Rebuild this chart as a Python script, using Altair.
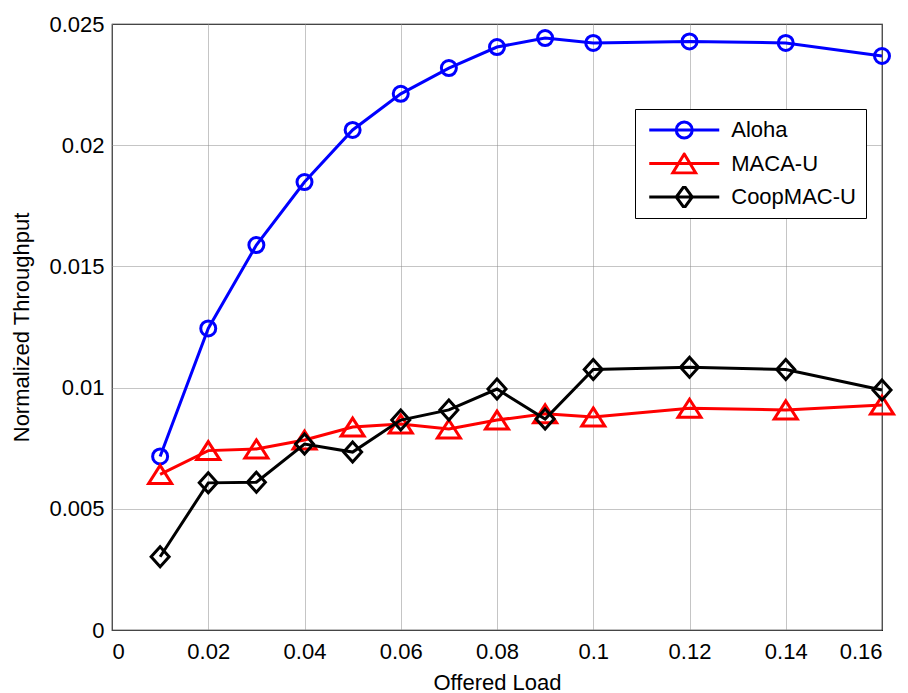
import altair as alt
import pandas as pd

# ---- data ----
offered_load = [0.01, 0.02, 0.03, 0.04, 0.05, 0.06, 0.07, 0.08, 0.09, 0.10, 0.12, 0.14, 0.16]
aloha = [0.00716, 0.01244, 0.01588, 0.01848, 0.02063, 0.02212, 0.02318, 0.02405, 0.02442,
         0.02422, 0.02428, 0.02422, 0.02368]
maca_u = [0.00642, 0.00740, 0.00747, 0.00784, 0.00837, 0.00850, 0.00829, 0.00866, 0.00892,
          0.00879, 0.00915, 0.00908, 0.00928]
coopmac_u = [0.00302, 0.00607, 0.00610, 0.00767, 0.00734, 0.00866, 0.00908, 0.00994, 0.00870,
             0.01075, 0.01084, 0.01075, 0.00990]

series_names = ["Aloha", "MACA-U", "CoopMAC-U"]
series_colors = ["#0000FF", "#FF0000", "#000000"]
x_ticks = [0, 0.02, 0.04, 0.06, 0.08, 0.1, 0.12, 0.14, 0.16]
y_ticks = [0, 0.005, 0.01, 0.015, 0.02, 0.025]

# marker shapes (plot) and legend symbols (line + marker)
plot_shapes = [
    "M-0.75,0A0.75,0.75 0 1,0 0.75,0A0.75,0.75 0 1,0 -0.75,0Z",
    "M0,-0.9L1.15,0.9L-1.15,0.9Z",
    "M0,-1L0.9,0L0,1L-0.9,0Z",
]
legend_shapes = [
    "M-1,0H1M-0.229,0A0.229,0.229 0 1,0 0.229,0A0.229,0.229 0 1,0 -0.229,0",
    "M-1,0H1M0,-0.271L0.329,0.271L-0.329,0.271Z",
    "M-1,0H1M0,-0.314L0.229,0L0,0.314L-0.229,0Z",
]

rows = []
for name, vals in zip(series_names, [aloha, maca_u, coopmac_u]):
    for xv, yv in zip(offered_load, vals):
        rows.append({"load": xv, "thr": yv, "series": name})
df = pd.DataFrame(rows)

FONT = "Liberation Sans"

x_enc = alt.X("load:Q", scale=alt.Scale(domain=[0, 0.16], nice=False, zero=False),
              axis=alt.Axis(values=x_ticks, format="~g", title="Offered Load",
                            titleBaseline="alphabetic", titleY=59,
                            labelPadding=11))
y_enc = alt.Y("thr:Q", scale=alt.Scale(domain=[0, 0.025], nice=False),
              axis=alt.Axis(values=y_ticks, format="~g", title="Normalized Throughput",
                            titleBaseline="alphabetic", titleX=-83.5,
                            labelPadding=8))

layers = []
for name, color, shp in zip(series_names, series_colors, plot_shapes):
    sub = alt.Chart(df).transform_filter(alt.datum.series == name)
    layers.append(sub.mark_line(color=color, strokeWidth=3).encode(x=x_enc, y=y_enc))
    layers.append(sub.mark_point(shape=shp, color=color, filled=False, strokeWidth=3,
                                 size=400, opacity=1).encode(x=x_enc, y=y_enc))

legend_layer = alt.Chart(df).transform_filter(alt.datum.thr < 0).mark_point(
    filled=False, strokeWidth=3, size=4900, opacity=1
).encode(
    x=x_enc, y=y_enc,
    color=alt.Color("series:N", scale=alt.Scale(domain=series_names, range=series_colors),
                    legend=alt.Legend(title=None, orient="none", legendX=523, legendY=85,
                                      direction="vertical")),
    shape=alt.Shape("series:N", scale=alt.Scale(domain=series_names, range=legend_shapes),
                    legend=alt.Legend(title=None, orient="none", legendX=523, legendY=85,
                                      direction="vertical")),
)
layers.append(legend_layer)

chart = alt.layer(*layers).properties(
    width=770, height=606,
    autosize=alt.AutoSizeParams(type="none"),
    padding={"left": 112, "top": 24, "right": 26, "bottom": 63},
    background="white",
).configure_view(
    stroke="black", strokeWidth=1.2
).configure_axis(
    labelFont=FONT, titleFont=FONT, labelFontSize=22, titleFontSize=22,
    titleFontWeight="normal", labelColor="black", titleColor="black",
    ticks=False, tickSize=0, domain=False,
    grid=True, gridColor="#8a8a8a", gridDash=[1, 1], gridWidth=1,
).configure_legend(
    labelFont=FONT, labelFontSize=22, labelColor="black",
    fillColor="white", strokeColor="black", padding=10,
    symbolStrokeWidth=3, symbolSize=4900, symbolOffset=2.75, labelOffset=10.5,
    clipHeight=22, rowPadding=11.5, symbolOpacity=1,
)

chart.save("out.html", embed_options={"renderer": "svg", "actions": False})
